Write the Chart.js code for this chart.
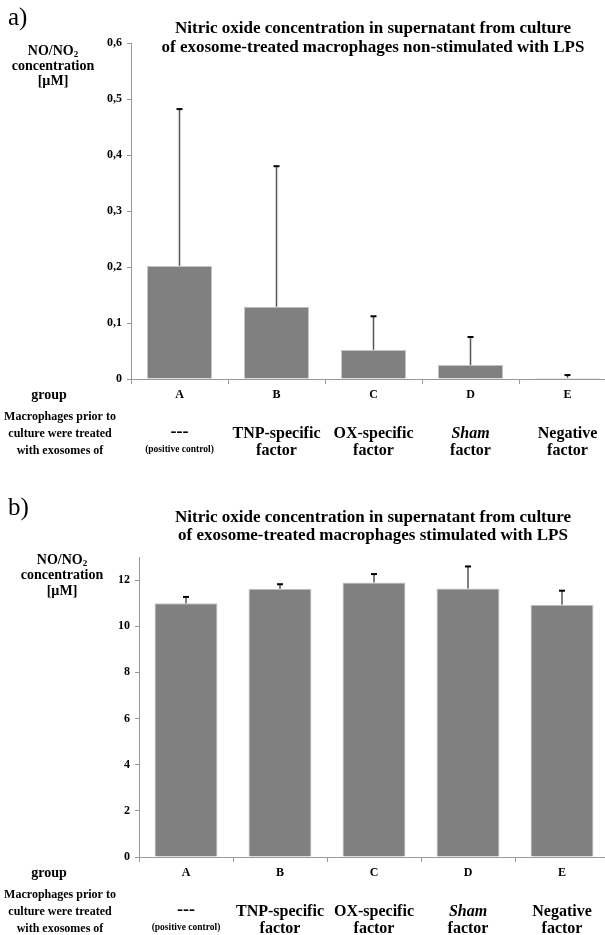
<!DOCTYPE html>
<html>
<head>
<meta charset="utf-8">
<script src="https://cdn.jsdelivr.net/npm/chart.js@4.4.0/dist/chart.umd.min.js"></script>
<style>
  html, body { margin: 0; padding: 0; background: #fff; overflow: hidden; width: 605px; height: 935px; }
  .panel { position: absolute; left: 0; width: 620px; }
  #panelA { top: 0; height: 470px; }
  #panelB { top: 470px; height: 465px; }
</style>
</head>
<body>
<div class="panel" id="panelA"><canvas id="chartA"></canvas></div>
<div class="panel" id="panelB"><canvas id="chartB"></canvas></div>
<script>
// data
const categories = ['A', 'B', 'C', 'D', 'E'];

const valuesA = [0.202, 0.129, 0.052, 0.025, 0.002];
const errorsA = [0.280, 0.251, 0.060, 0.050, 0.005];
const ticksA = ['0', '0,1', '0,2', '0,3', '0,4', '0,5', '0,6'];

const valuesB = [11.00, 11.62, 11.90, 11.63, 10.93];
const errorsB = [0.27, 0.20, 0.36, 0.96, 0.61];
const ticksB = ['0', '2', '4', '6', '8', '10', '12'];

const titleA = ['Nitric oxide concentration in supernatant from culture',
                'of exosome-treated macrophages non-stimulated with LPS'];
const titleB = ['Nitric oxide concentration in supernatant from culture',
                'of exosome-treated macrophages stimulated with LPS'];

const yTitle = ['NO/NO', 'concentration', '[\u00b5M]'];
const rowLabels = ['Macrophages prior to', 'culture were treated', 'with exosomes of'];
const descTop = ['---', 'TNP-specific', 'OX-specific', 'Sham', 'Negative'];
const descBottom = ['(positive control)', 'factor', 'factor', 'factor', 'factor'];

const serif = "'Liberation Serif', 'Times New Roman', serif";

// error bars + annotation text
const panelPlugin = {
    id: 'panelText',
    afterDatasetsDraw(chart, args, o) {
        const ctx = chart.ctx;
        const y = chart.scales.y;
        const meta = chart.getDatasetMeta(0);
        ctx.save();
        meta.data.forEach(function(bar, i) {
            const top = y.getPixelForValue(o.values[i] + o.errors[i]);
            ctx.strokeStyle = '#555';
            ctx.lineWidth = 1.5;
            ctx.beginPath();
            ctx.moveTo(bar.x, bar.y);
            ctx.lineTo(bar.x, top);
            ctx.stroke();
            ctx.strokeStyle = '#000';
            ctx.lineWidth = 2;
            ctx.beginPath();
            ctx.moveTo(bar.x - 3, top);
            ctx.lineTo(bar.x + 3, top);
            ctx.stroke();
        });
        ctx.restore();
    },
    afterDraw(chart, args, o) {
        const ctx = chart.ctx;
        const x = chart.scales.x;
        const base = chart.chartArea.bottom;
        ctx.save();
        ctx.fillStyle = '#000';
        ctx.textBaseline = 'middle';

        // panel letter
        ctx.textAlign = 'left';
        ctx.font = '25px ' + serif;
        ctx.fillText(o.letter, 8, o.letterY);

        // title
        ctx.textAlign = 'center';
        ctx.font = 'bold 17px ' + serif;
        ctx.fillText(o.title[0], o.titleX, o.titleY[0]);
        ctx.fillText(o.title[1], o.titleX, o.titleY[1]);

        // y axis caption
        ctx.font = 'bold 14px ' + serif;
        const w0 = ctx.measureText(yTitle[0]).width;
        ctx.font = 'bold 9px ' + serif;
        const w2 = ctx.measureText('2').width;
        let sx = o.yTitleX - (w0 + w2) / 2;
        ctx.textAlign = 'left';
        ctx.font = 'bold 14px ' + serif;
        ctx.fillText(yTitle[0], sx, o.yTitleY[0]);
        ctx.font = 'bold 9px ' + serif;
        ctx.fillText('2', sx + w0, o.yTitleY[0] + 4);
        ctx.textAlign = 'center';
        ctx.font = 'bold 14px ' + serif;
        ctx.fillText(yTitle[1], o.yTitleX, o.yTitleY[1]);
        ctx.fillText(yTitle[2], o.yTitleX, o.yTitleY[2]);

        // left captions
        ctx.font = 'bold 14px ' + serif;
        ctx.fillText('group', 49, base + 16);
        ctx.font = 'bold 12px ' + serif;
        ctx.fillText(rowLabels[0], 60, base + 38);
        ctx.fillText(rowLabels[1], 60, base + 55);
        ctx.fillText(rowLabels[2], 60, base + 72);

        // treatment descriptions under each group
        categories.forEach(function(c, i) {
            const cx = x.getPixelForValue(i);
            if (i === 0) {
                ctx.font = 'bold 18px ' + serif;
                ctx.fillText(descTop[i], cx, base + 53);
                ctx.font = 'bold 9.5px ' + serif;
                ctx.fillText(descBottom[i], cx, base + 71);
            } else {
                ctx.font = (i === 3 ? 'italic bold 16px ' : 'bold 16px ') + serif;
                ctx.fillText(descTop[i], cx, base + 55);
                ctx.font = 'bold 16px ' + serif;
                ctx.fillText(descBottom[i], cx, base + 72);
            }
        });
        ctx.restore();
    }
};

function makePanel(id, p) {
    const lastTick = p.step * (p.tickLabels.length - 1) + 1e-9;
    return new Chart(document.getElementById(id), {
        type: 'bar',
        data: {
            labels: categories,
            datasets: [{
                data: p.values,
                backgroundColor: '#808080',
                borderColor: '#c4c4c4',
                borderWidth: 1,
                barPercentage: 0.67,
                categoryPercentage: 1
            }]
        },
        options: {
            responsive: true,
            maintainAspectRatio: false,
            animation: false,
            layout: { padding: { top: p.top, right: p.right, bottom: p.bottom, left: 0 } },
            plugins: {
                legend: { display: false },
                tooltip: { enabled: false },
                panelText: p.text
            },
            scales: {
                x: {
                    offset: true,
                    afterFit: function(scale) { scale.height = 30; },
                    grid: { offset: true, drawOnChartArea: false, tickLength: 5, color: '#999' },
                    border: { color: '#999', width: 1 },
                    ticks: { color: '#000', padding: 4, font: { family: serif, weight: 'bold', size: 12 } }
                },
                y: {
                    min: 0,
                    max: p.max,
                    afterFit: function(scale) { scale.width = p.left; },
                    afterBuildTicks: function(scale) {
                        scale.ticks = scale.ticks.filter(function(t) { return t.value <= lastTick; });
                    },
                    grid: { drawOnChartArea: false, tickLength: 4, color: '#999' },
                    border: { color: '#999', width: 1 },
                    ticks: {
                        stepSize: p.step,
                        color: '#000',
                        padding: 5,
                        font: { family: serif, weight: 'bold', size: p.tickSize },
                        callback: function(v, i) { return p.tickLabels[i]; }
                    }
                }
            }
        },
        plugins: [panelPlugin]
    });
}

makePanel('chartA', {
    values: valuesA, max: 0.6, step: 0.1, tickLabels: ticksA, tickSize: 12,
    left: 131, top: 43, right: 4, bottom: 61,
    text: {
        values: valuesA, errors: errorsA, letter: 'a)', letterY: 18,
        title: titleA, titleX: 373, titleY: [29, 48],
        yTitleX: 53, yTitleY: [51, 66, 81]
    }
});

makePanel('chartB', {
    values: valuesB, max: 13, step: 2, tickLabels: ticksB, tickSize: 12,
    left: 139, top: 87, right: 11, bottom: 48,
    text: {
        values: valuesB, errors: errorsB, letter: 'b)', letterY: 38,
        title: titleB, titleX: 373, titleY: [48, 66],
        yTitleX: 62, yTitleY: [90, 105, 121]
    }
});
</script>
</body>
</html>
